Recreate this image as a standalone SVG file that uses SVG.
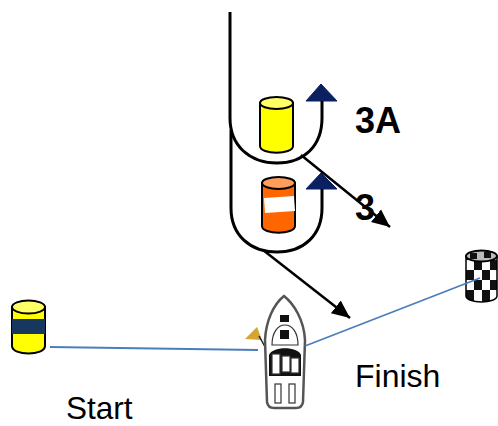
<svg xmlns="http://www.w3.org/2000/svg" width="498" height="426" viewBox="0 0 498 426">
<style>
.t{font-family:"Liberation Sans",Arial,sans-serif;fill:#000}
.c{stroke:#000;stroke-width:2}
.r{fill:none;stroke:#000;stroke-width:3}
.b{fill:none;stroke:#4a7ebb;stroke-width:1.800}
.a{fill:none;stroke:#000;stroke-width:2.500}
.h{fill:#0a2060;stroke:#0a2060;stroke-width:1}
.bk{fill:#111}
.bo{fill:#fff;stroke:#333;stroke-width:1.200}
</style>
<defs>
<marker id="ah" markerUnits="userSpaceOnUse" markerWidth="20" markerHeight="20" refX="18" refY="10" orient="auto"><path d="M0 2L18 10L0 18Z" fill="#000"/></marker>
<clipPath id="ck"><path d="M466 256A15.500 6 0 0 1 497 256V296A15.500 6 0 0 1 466 296Z"/></clipPath>
</defs>
<g id="mark-3a">
<path class="h" d="M321 84L306 101H337Z"/>
<path class="c" fill="#ff0" d="M260 103V146C260 155 293 155 293 146V103Z"/>
<ellipse class="c" cx="276.500" cy="103" rx="16.500" ry="6" fill="#ff6"/>
<text class="t" x="355" y="133" font-size="36" font-weight="700">3A</text>
</g>
<g id="mark-3">
<path class="h" d="M321 173L306 189H337Z"/>
<path class="c" fill="#f60" d="M262 183V226C262 235 295 235 295 226V183Z"/>
<ellipse class="c" cx="278.500" cy="183" rx="16.500" ry="6" fill="#ff9d5c"/>
<path fill="#fff" d="M264 198L294 196L295 211L265 213Z"/>
<text class="t" x="355" y="220" font-size="36" font-weight="700">3</text>
</g>
<g id="start-buoy">
<path class="c" fill="#ff0" d="M12 307V346C12 356 45 356 45 346V307Z"/>
<rect x="12" y="319" width="33" height="15" fill="#17375e"/>
<ellipse class="c" cx="28.500" cy="307" rx="16.500" ry="6.500" fill="#ff6"/>
<text class="t" x="66" y="419" font-size="31.500">Start</text>
</g>
<g id="finish-buoy">
<g clip-path="url(#ck)">
<rect x="465" y="249" width="33" height="54" fill="#fff"/>
<path class="bk" d="M466 250h8v10h-8zM482 250h8v10h-8zM474 260h8v10h-8zM490 260h8v10h-8zM466 270h8v10h-8zM482 270h8v10h-8zM474 280h8v10h-8zM490 280h8v10h-8zM466 290h8v12h-8zM482 290h8v12h-8z"/>
</g>
<path d="M466 256V296A15.500 6 0 0 0 497 296V256" fill="none" stroke="#000" stroke-width="1.500"/>
<ellipse cx="481.500" cy="256" rx="15.500" ry="5.500" fill="#bbb" stroke="#000" stroke-width="2"/>
<path class="bk" d="M470 253h7v6h-7zM484 252h7v6h-7z"/>
<text class="t" x="355" y="387" font-size="32">Finish</text>
</g>
<g id="boat">
<path d="M245 339L257 327L262 340Z" fill="#d3a531"/>
<path d="M259 336L269 354" stroke="#222" stroke-width="1.500"/>
<path d="M284 296C274 304 266 320 265 340L267 402Q268 408 274 408H296Q302 408 303 402L305 340C304 320 294 304 284 296Z" fill="#fff" stroke="#555" stroke-width="2.500"/>
<rect class="bk" x="280" y="315" width="9" height="7"/>
<path class="bo" d="M272 345C272 332 278 325 285 325C292 325 298 332 298 345Z" stroke-width="2"/>
<rect class="bk" x="280" y="330" width="9" height="9"/>
<path class="bk" d="M269 355C272 346 298 346 301 355V376H269Z"/>
<rect class="bo" x="272" y="354" width="8" height="20"/>
<rect class="bo" x="282" y="356" width="8" height="16"/>
<rect class="bo" x="291" y="358" width="8" height="15"/>
<rect class="bo" x="275" y="384" width="6" height="19" stroke-width="1.800"/>
<rect class="bo" x="289" y="384" width="6" height="19" stroke-width="1.800"/>
</g>
<g id="connectors">
<path class="r" d="M230 12V118C230 146 250 163 277 163C304 163 322 146 322 118V101"/>
<path class="r" d="M231 130V208C231 235 250 252 277 252C304 252 322 235 322 208V189"/>
<path class="a" d="M301 155L390 227" marker-end="url(#ah)"/>
<path class="a" d="M263 250L350 318" marker-end="url(#ah)"/>
<path class="b" d="M50 347L258 350"/>
<path class="b" d="M305 346L480 278"/>
</g>
</svg>
